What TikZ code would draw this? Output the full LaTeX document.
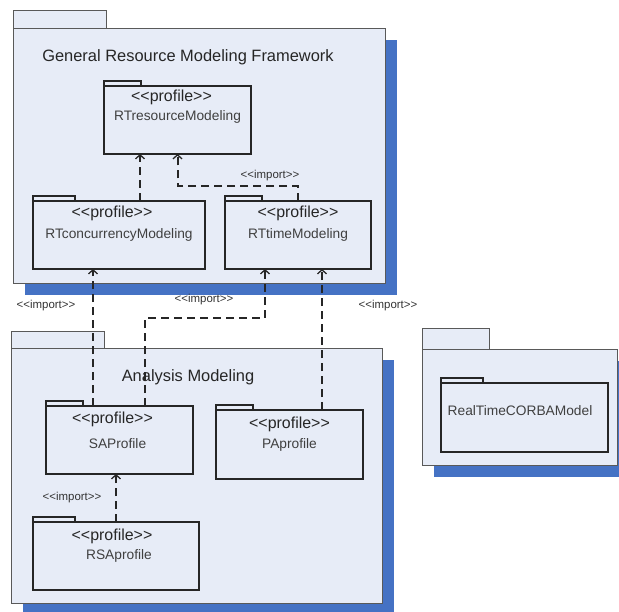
\documentclass[tikz,border=0pt]{standalone}
\usepackage{fontspec}
\setmainfont{Liberation Sans}
\usetikzlibrary{arrows.meta,positioning,shadows}
\definecolor{pkgfill}{RGB}{231,236,247}
\definecolor{pkgshadow}{RGB}{69,114,196}
\newcommand{\sttype}[1]{<{}<#1>{}>}

\begin{document}
\begin{tikzpicture}[x=1bp, y=-1bp,
  outer pkg/.style={rectangle,draw=black!65,line width=0.9bp,fill=pkgfill,inner sep=0bp,outer sep=0bp,
    drop shadow={shadow xshift=12bp,shadow yshift=-12bp,fill=pkgshadow,opacity=1}},
  outer tab/.style={rectangle,draw=black!65,line width=0.9bp,fill=pkgfill,inner sep=0bp,outer sep=0bp},
  prof pkg/.style={rectangle,draw=black!85,line width=1.6bp,fill=pkgfill,inner sep=0bp,outer sep=0bp},
  prof tab/.style={rectangle,draw=black!85,line width=1.2bp,fill=pkgfill,inner sep=0bp,outer sep=0bp,minimum height=5bp},
  title/.style={font=\fontsize{16.5}{19}\selectfont,text=black!85},
  stereo/.style={font=\fontsize{16}{18}\selectfont,text=black!85},
  pname/.style={font=\fontsize{13.8}{16}\selectfont,text=black!75},
  implabel/.style={font=\fontsize{11.5}{13}\selectfont,text=black!80},
  imp/.style={dash pattern=on 8bp off 5bp,line width=2bp,draw=black!85,
    -{Straight Barb[length=4bp,width=9bp,line width=1.3bp]}}]
\useasboundingbox (0,0) rectangle (619,612);

% outer packages
\node[outer pkg,minimum width=372bp,minimum height=255bp] (grm) at (199,155.5) {};
\node[outer tab,minimum width=93bp,minimum height=18bp,above right=0bp and 0bp of grm.north west] (grmT) {};
\node[title] (grmL) at ([xshift=-11bp,yshift=-29bp]grm.north) {General Resource Modeling Framework};

\node[outer pkg,minimum width=371bp,minimum height=255bp] (am) at (196.5,475.5) {};
\node[outer tab,minimum width=93bp,minimum height=17bp,above right=0bp and 0bp of am.north west] (amT) {};
\node[title] (amL) at ([xshift=-8.5bp,yshift=-29bp]am.north) {Analysis Modeling};

\node[outer pkg,minimum width=195bp,minimum height=116bp] (rtc) at (519.5,407) {};
\node[outer tab,minimum width=67bp,minimum height=21bp,above right=0bp and 0bp of rtc.north west] (rtcT) {};

% profiles
\node[prof pkg,minimum width=147bp,minimum height=68bp] (res) at (177.5,120) {};
\node[prof tab,minimum width=37bp,above right=0bp and 0bp of res.north west] (resT) {};
\node[stereo] (resS) at ([xshift=-6bp,yshift=-11bp]res.north) {\sttype{profile}};
\node[pname] (resN) at ([yshift=-31bp]res.north) {RTresourceModeling};

\node[prof pkg,minimum width=172bp,minimum height=68bp] (conc) at (119,235) {};
\node[prof tab,minimum width=42bp,above right=0bp and 0bp of conc.north west] (concT) {};
\node[stereo] (concS) at ([xshift=-7bp,yshift=-12bp]conc.north) {\sttype{profile}};
\node[pname] (concN) at ([yshift=-34bp]conc.north) {RTconcurrencyModeling};

\node[prof pkg,minimum width=146bp,minimum height=68bp] (time) at (298,235) {};
\node[prof tab,minimum width=37bp,above right=0bp and 0bp of time.north west] (timeT) {};
\node[stereo] (timeS) at ([yshift=-12bp]time.north) {\sttype{profile}};
\node[pname] (timeN) at ([yshift=-34bp]time.north) {RTtimeModeling};

\node[prof pkg,minimum width=147bp,minimum height=68bp] (sa) at (119.5,440) {};
\node[prof tab,minimum width=37bp,above right=0bp and 0bp of sa.north west] (saT) {};
\node[stereo] (saS) at ([xshift=-7bp,yshift=-13bp]sa.north) {\sttype{profile}};
\node[pname] (saN) at ([xshift=-2bp,yshift=-38bp]sa.north) {SAProfile};

\node[prof pkg,minimum width=147bp,minimum height=69bp] (pa) at (289.5,444.5) {};
\node[prof tab,minimum width=37bp,above right=0bp and 0bp of pa.north west] (paT) {};
\node[stereo] (paS) at ([yshift=-14bp]pa.north) {\sttype{profile}};
\node[pname] (paN) at ([yshift=-35bp]pa.north) {PAprofile};

\node[prof pkg,minimum width=166bp,minimum height=68bp] (rsa) at (116,556) {};
\node[prof tab,minimum width=42bp,above right=0bp and 0bp of rsa.north west] (rsaT) {};
\node[stereo] (rsaS) at ([xshift=-4bp,yshift=-14bp]rsa.north) {\sttype{profile}};
\node[pname] (rsaN) at ([xshift=3bp,yshift=-34bp]rsa.north) {RSAprofile};

\node[prof pkg,minimum width=167bp,minimum height=69bp] (corba) at (524.5,417.5) {};
\node[prof tab,minimum width=42bp,above right=0bp and 0bp of corba.north west] (corbaT) {};
\node[pname] (corbaN) at ([xshift=-4.5bp,yshift=-28bp]corba.north) {RealTimeCORBAModel};

% imports
\draw[imp] ([xshift=21bp]conc.north) -- ([xshift=21bp]conc.north |- res.south);
\draw[imp] (time.north) -- ++(0,-15) -| (res.south);
\draw[imp] ([xshift=-26.5bp]sa.north) -- ([xshift=-26.5bp]sa.north |- conc.south);
\draw[imp] ([xshift=25.5bp]sa.north) -- ++(0,-88) -| ([xshift=-33bp]time.south);
\draw[imp] ([xshift=32.5bp]pa.north) -- ([xshift=32.5bp]pa.north |- time.south);
\draw[imp] (rsa.north) -- (rsa.north |- sa.south);

\node[implabel] (l1) at (270,176) {\sttype{import}};
\node[implabel] (l2) at (46,306) {\sttype{import}};
\node[implabel] (l3) at (204,300) {\sttype{import}};
\node[implabel] (l4) at (388,306) {\sttype{import}};
\node[implabel] (l5) at (72,498) {\sttype{import}};
\end{tikzpicture}
\end{document}
